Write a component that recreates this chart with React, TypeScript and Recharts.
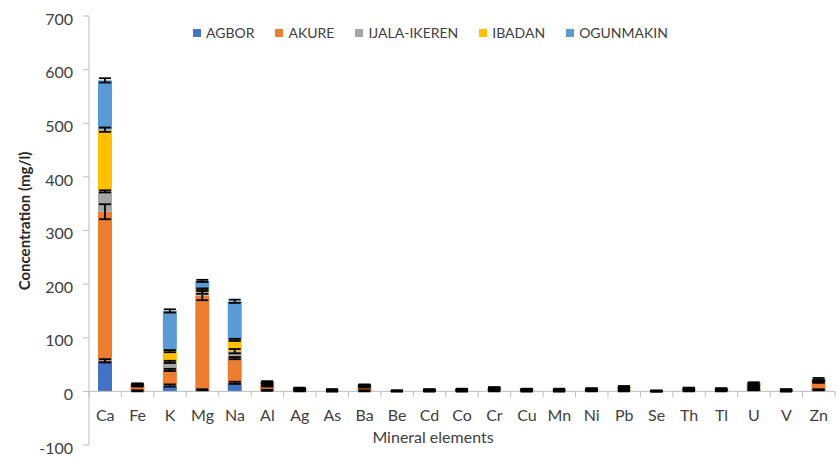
import React from "react";
import { Bar, BarChart, ErrorBar, ReferenceLine, XAxis, YAxis } from "recharts";

// Mineral concentrations (mg/l) per site, stacked per element.
const elements = ["Ca", "Fe", "K", "Mg", "Na", "Al", "Ag", "As", "Ba", "Be", "Cd", "Co", "Cr", "Cu", "Mn", "Ni", "Pb", "Se", "Th", "Tl", "U", "V", "Zn"];

const agbor = [57, 1, 11, 3, 16, 2, 1, 0.5, 1, 0.3, 0.5, 0.5, 1, 0.5, 0.5, 1, 1, 0.2, 1, 1, 3, 0.5, 3];
const akure = [278, 10, 29, 176, 46, 8, 2, 1, 8, 0.3, 1, 1, 3, 1, 1, 1, 2, 0.2, 2, 1, 3, 1, 14];
const ijala = [38, 1, 15, 6, 13, 2, 1, 0.5, 1, 0.2, 0.5, 1, 1, 1, 1, 1, 1, 0.2, 1, 1, 2, 0.5, 1];
const ibadan = [115, 1, 20, 5, 21, 2, 1, 0.5, 1, 0.2, 0.5, 1, 1, 1, 1, 1, 3, 0.2, 1, 1, 2, 0.5, 1];
const ogunmakin = [92, 1, 75, 16, 72, 4, 1, 0.5, 1, 0.2, 0.5, 0.5, 1, 0.5, 0.5, 1, 2, 0.2, 1, 1, 6, 0.5, 4];

// standard deviations
const agborErr = [3, 1, 2, 1, 2, 1, 1, 1, 1, 0.5, 1, 1, 1, 1, 1, 1, 1, 0.5, 1, 1, 1, 1, 1];
const akureErr = [14, 2, 2, 9, 2, 1, 1, 1, 2, 0.5, 1, 1, 1, 1, 1, 1, 1, 0.5, 1, 1, 2, 1, 1];
const ijalaErr = [2, 1, 2, 3, 4, 1, 1, 1, 1, 0.5, 1, 1, 1, 1, 1, 1, 1, 0.5, 1, 1, 2, 1, 1];
const ibadanErr = [4, 1, 2, 2, 2, 1, 1, 1, 1, 0.5, 1, 1, 1, 1, 1, 1, 1, 0.5, 1, 1, 2, 1, 1];
const ogunmakinErr = [4, 1, 3, 2, 3, 1, 1, 1, 1, 0.5, 1, 1, 1, 1, 1, 1, 1, 0.5, 1, 1, 1, 1, 2];

const yTicks = [-100, 0, 100, 200, 300, 400, 500, 600, 700];

const series = [
  { key: "agbor", name: "AGBOR", color: "#4472C4", values: agbor, errors: agborErr },
  { key: "akure", name: "AKURE", color: "#ED7D31", values: akure, errors: akureErr },
  { key: "ijala", name: "IJALA-IKEREN", color: "#A5A5A5", values: ijala, errors: ijalaErr },
  { key: "ibadan", name: "IBADAN", color: "#FFC000", values: ibadan, errors: ibadanErr },
  { key: "ogunmakin", name: "OGUNMAKIN", color: "#5B9BD5", values: ogunmakin, errors: ogunmakinErr },
];

const data = elements.map((el, i) => {
  const row: Record<string, number | string> = { el };
  series.forEach((s) => {
    row[s.key] = s.values[i];
    row[s.key + "Err"] = s.errors[i];
  });
  return row;
});

const W = 838;
const H = 469;
const MARGIN = { top: 16, right: 3, bottom: 0, left: 0 };
const Y_AXIS_W = 89;
const X_AXIS_H = 24;
const PLOT_W = W - MARGIN.left - MARGIN.right - Y_AXIS_W;
const PLOT_H = H - MARGIN.top - MARGIN.bottom - X_AXIS_H;
const BAND = PLOT_W / elements.length;
// the category axis sits on y = 0, not at the bottom of the plot
const ZERO_FROM_BOTTOM = (PLOT_H * (0 - yTicks[0])) / (yTicks[yTicks.length - 1] - yTicks[0]);

const FONT = "Lato, 'Open Sans', sans-serif";
const TEXT = "#404040";
const AXIS = "#bfbfbf";

function ElementTick(props: any) {
  const { x, y, payload, index } = props;
  const zeroY = y - ZERO_FROM_BOTTOM;
  const half = BAND / 2;
  return (
    <g>
      <line x1={x - half} x2={x - half} y1={zeroY} y2={zeroY + 6} stroke={AXIS} />
      {index === elements.length - 1 && (
        <line x1={x + half} x2={x + half} y1={zeroY} y2={zeroY + 6} stroke={AXIS} />
      )}
      <text x={x} y={zeroY + 30} textAnchor="middle" fontSize={16} fill={TEXT} fontFamily={FONT}>
        {payload.value}
      </text>
    </g>
  );
}

function YTitle() {
  return (
    <text
      x={24}
      y={221}
      transform="rotate(-90 24 221)"
      textAnchor="middle"
      dominantBaseline="central"
      fontSize={15}
      fontWeight="bold"
      fill="#262626"
      fontFamily={FONT}
    >
      Concentration (mg/l)
    </text>
  );
}

export default function App() {
  return (
    <div style={{ position: "absolute", left: 0, top: 0, width: W, height: H, background: "#fff", fontFamily: FONT }}>
      <BarChart width={W} height={H} data={data} margin={MARGIN}>
        <YAxis
          width={Y_AXIS_W}
          domain={[yTicks[0], yTicks[yTicks.length - 1]]}
          ticks={yTicks}
          interval={0}
          axisLine={{ stroke: AXIS }}
          tickLine={{ stroke: AXIS }}
          tickSize={6}
          tickMargin={10}
          tick={{ fontSize: 16, fill: TEXT, fontFamily: FONT, dy: 3 }}
          label={<YTitle />}
        />
        <XAxis
          dataKey="el"
          height={X_AXIS_H}
          interval={0}
          axisLine={false}
          tickLine={false}
          tickSize={0}
          tickMargin={0}
          tick={<ElementTick />}
        />
        <ReferenceLine y={0} stroke={AXIS} />
        {series.map((s) => (
          <Bar
            key={s.key}
            dataKey={s.key}
            name={s.name}
            stackId="site"
            fill={s.color}
            barSize={14}
            isAnimationActive={false}
          >
            <ErrorBar
              dataKey={s.key + "Err"}
              direction="y"
              width={6}
              stroke="#000"
              strokeWidth={1.8}
              isAnimationActive={false}
            />
          </Bar>
        ))}
      </BarChart>
      <div
        style={{
          position: "absolute",
          left: 193,
          top: 25,
          display: "flex",
          gap: 21,
          fontSize: 14,
          color: TEXT,
          lineHeight: "16px",
        }}
      >
        {series.map((s) => (
          <div key={s.key} style={{ display: "flex", alignItems: "center" }}>
            <span style={{ width: 8, height: 8, background: s.color, marginRight: 5, display: "inline-block" }} />
            <span>{s.name}</span>
          </div>
        ))}
      </div>
      <div
        style={{
          position: "absolute",
          left: 433,
          top: 427,
          transform: "translateX(-50%)",
          fontSize: 16,
          color: TEXT,
          whiteSpace: "nowrap",
        }}
      >
        Mineral elements
      </div>
    </div>
  );
}
